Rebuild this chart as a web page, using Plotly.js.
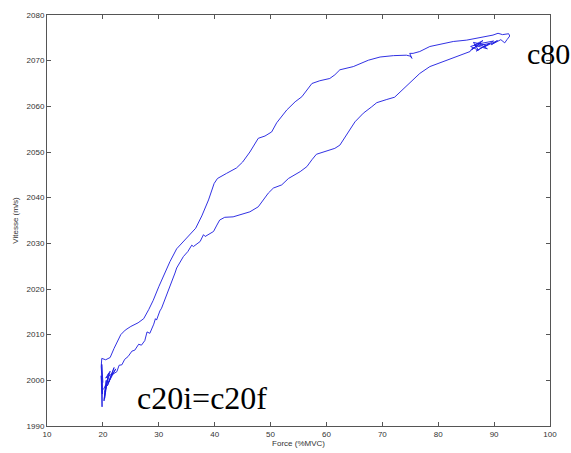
<!DOCTYPE html>
<html>
<head>
<meta charset="utf-8">
<script src="https://cdn.plot.ly/plotly-3.0.1.min.js"></script>
<style>html,body{margin:0;padding:0;background:#fff;}#chart{width:571px;height:453px;}</style>
</head>
<body>
<div id="chart"></div>
<script>
// Start spike and upper branch (c20i -> c80)
const startX = [20.0, 19.8, 19.9, 19.7, 19.85, 19.9, 19.7, 19.8];
const startY = [1999.5, 2003.5, 1997.0, 2001.0, 1994.2, 1999.0, 2003.0, 2004.8];

const upperX = [20.5, 21.3, 22.0, 22.6, 23.2, 24.0, 25.0, 26.3, 27.3, 28.2, 29.0, 30.0, 31.0, 32.0, 33.2, 34.5, 35.5, 36.6, 37.7, 38.9, 39.9, 40.5, 42.1, 43.9, 45.0, 46.3, 47.8, 49.0, 50.2, 51.1, 52.9, 54.4, 55.6, 56.5, 57.4, 58.8, 60.6, 61.5, 62.4, 64.8, 66.3, 67.5, 69.6, 72.0, 74.3, 75.0, 75.3, 74.9, 75.5, 76.7, 78.5, 80.3, 82.7, 85.1, 87.5, 89.8, 90.7, 91.5, 92.6, 92.8, 92.3, 91.9];
const upperY = [2004.5, 2005.0, 2007.0, 2008.6, 2010.0, 2011.0, 2011.8, 2012.6, 2013.5, 2015.5, 2017.5, 2020.5, 2023.3, 2026.0, 2028.8, 2030.5, 2031.7, 2033.3, 2036.0, 2039.5, 2043.1, 2044.2, 2045.3, 2046.5, 2047.8, 2050.0, 2053.0, 2053.5, 2054.4, 2056.4, 2059.2, 2061.0, 2062.1, 2063.6, 2065.0, 2065.6, 2066.1, 2066.9, 2068.0, 2068.7, 2069.4, 2070.1, 2070.8, 2071.1, 2071.2, 2071.0, 2070.5, 2071.6, 2071.6, 2072.0, 2073.1, 2073.6, 2074.2, 2074.5, 2075.1, 2075.6, 2076.0, 2075.7, 2075.9, 2075.4, 2074.6, 2073.9];

// Noisy cluster near c80
const topClusterX = [91.2, 89.5, 90.6, 88.2, 89.9, 87.3, 88.8, 86.4, 88.0, 86.0, 87.6, 85.8, 87.2, 86.3, 88.5, 86.8, 89.2, 87.0, 86.0, 85.7];
const topClusterY = [2074.6, 2073.5, 2074.4, 2073.0, 2074.3, 2073.7, 2072.6, 2073.4, 2074.4, 2072.4, 2073.9, 2073.1, 2072.3, 2074.0, 2073.4, 2072.1, 2073.8, 2073.2, 2072.6, 2072.0];

// Lower branch (c80 -> c20f), with its small steps
const lowerX = [84.8, 83.9, 81.5, 78.5, 76.7, 75.5, 74.3, 73.1, 72.2, 70.8, 69.0, 68.1, 66.6, 65.1, 64.3, 63.6, 62.4, 61.5, 59.7, 58.2, 57.4, 56.5, 55.3, 53.8, 53.2, 52.0, 50.5, 49.6, 48.7, 47.8, 46.3, 44.5, 43.3, 41.8, 40.9, 40.4, 39.8, 38.3, 38.0, 37.4, 36.2, 35.9, 35.2, 34.4, 33.5, 33.2, 32.9, 32.4, 32.2, 31.9, 31.4, 30.9, 30.5, 30.2, 29.6, 29.4, 29.1, 28.4, 27.9, 27.5, 26.9, 26.4, 25.7, 25.2, 24.5, 23.9, 23.4, 22.9, 22.5, 21.6];
const lowerY = [2071.6, 2071.2, 2070.1, 2068.7, 2067.2, 2065.8, 2064.3, 2063.0, 2062.0, 2061.5, 2060.8, 2059.9, 2058.5, 2056.6, 2055.0, 2053.7, 2051.5, 2050.8, 2050.1, 2049.5, 2048.3, 2046.8, 2045.7, 2044.7, 2044.2, 2042.8, 2042.1, 2041.0, 2039.5, 2038.0, 2036.9, 2036.2, 2035.8, 2035.7, 2035.1, 2034.0, 2032.6, 2031.5, 2031.9, 2030.4, 2029.3, 2029.6, 2028.2, 2027.1, 2025.3, 2024.6, 2023.5, 2021.8, 2021.3, 2020.3, 2018.5, 2017.0, 2015.8, 2015.2, 2013.2, 2013.5, 2012.3, 2010.3, 2010.6, 2008.7, 2007.7, 2007.9, 2006.6, 2006.4, 2005.2, 2004.6, 2003.4, 2003.3, 2001.9, 2001.2];

// Noisy cluster near c20f
const bottomClusterX = [22.3, 21.0, 22.0, 20.8, 21.7, 20.5, 21.3, 20.4, 21.0, 20.3, 20.6, 20.2, 20.5, 20.1];
const bottomClusterY = [2002.5, 1999.5, 2002.8, 1998.8, 2001.5, 2000.5, 2002.0, 1997.5, 2001.5, 1996.0, 2000.0, 1995.5, 1999.0, 1998.0];

const xTicks = [10, 20, 30, 40, 50, 60, 70, 80, 90, 100];
const yTicks = [1990, 2000, 2010, 2020, 2030, 2040, 2050, 2060, 2070, 2080];

const xs = [].concat(startX, upperX, topClusterX, lowerX, bottomClusterX);
const ys = [].concat(startY, upperY, topClusterY, lowerY, bottomClusterY);

const axisFont = {family: 'Liberation Sans, Arial, sans-serif', size: 8, color: '#333'};

const data = [{
  x: xs, y: ys, type: 'scatter', mode: 'lines',
  line: {color: '#1a1ae0', width: 0.9},
  hoverinfo: 'skip'
}];

const layout = {
  width: 571, height: 453,
  margin: {l: 47, r: 21, t: 15, b: 27},
  paper_bgcolor: '#fff', plot_bgcolor: '#fff',
  showlegend: false,
  xaxis: {
    range: [10, 100], tickvals: xTicks, ticktext: xTicks.map(String),
    ticks: 'inside', ticklen: 4, tickcolor: '#555', mirror: 'ticks',
    showline: true, linecolor: '#555', linewidth: 1, showgrid: false, zeroline: false,
    tickfont: axisFont,
    title: {text: 'Force (%MVC)', font: axisFont, standoff: 2}
  },
  yaxis: {
    range: [1990, 2080], tickvals: yTicks, ticktext: yTicks.map(String),
    ticks: 'inside', ticklen: 4, tickcolor: '#555', mirror: 'ticks',
    showline: true, linecolor: '#555', linewidth: 1, showgrid: false, zeroline: false,
    tickfont: axisFont,
    title: {text: 'Vitesse (m/s)', font: axisFont, standoff: 6}
  },
  annotations: [
    {text: 'c80', x: 95.5, y: 2071.6, xref: 'x', yref: 'y', xanchor: 'left', yanchor: 'middle', showarrow: false,
     font: {family: 'Liberation Serif, Times New Roman, serif', size: 30, color: '#000'}},
    {text: 'c20i=c20f', x: 25.7, y: 1996.1, xref: 'x', yref: 'y', xanchor: 'left', yanchor: 'middle', showarrow: false,
     font: {family: 'Liberation Serif, Times New Roman, serif', size: 32, color: '#000'}}
  ]
};

Plotly.newPlot('chart', data, layout, {displayModeBar: false, staticPlot: true});
</script>
</body>
</html>
